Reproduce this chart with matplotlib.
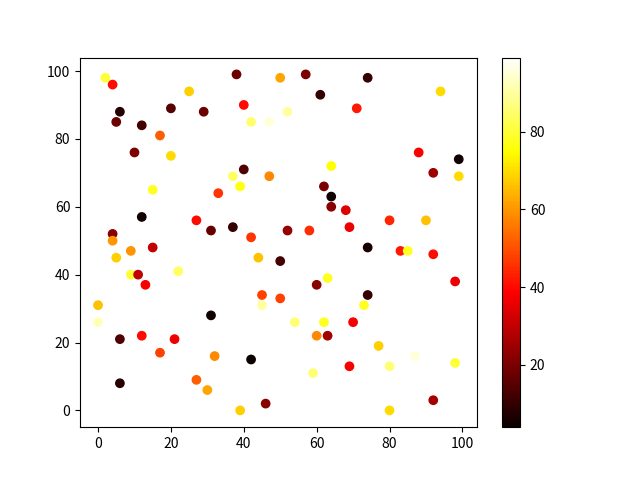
import numpy as np
import matplotlib.pyplot as plt

plt.rcParams['font.family'] = ['Noto Sans CJK SC', 'DejaVu Sans']

x = [2, 4, 6, 5, 12, 10, 17, 20, 25, 29, 20, 15, 12, 33, 38, 40, 42, 47, 40, 37,
     39, 47, 37, 31, 27, 42, 44, 50, 57, 61, 52, 71, 74, 88, 88, 94, 99, 92, 99, 64,
     62, 64, 64, 68, 80, 90, 52, 58, 69, 74, 4, 4, 9, 15, 5, 50, 9, 11, 13, 22,
     45, 50, 45, 0, 0, 31, 6, 12, 21, 17, 32, 42, 6, 27, 30, 39, 46, 83, 85, 92,
     98, 60, 63, 74, 73, 54, 62, 70, 60, 63, 77, 87, 98, 69, 80, 59, 92, 80]
y = [98, 96, 88, 85, 84, 76, 81, 89, 94, 88, 75, 65, 57, 64, 99, 90, 85, 85, 71, 69,
     66, 69, 54, 53, 56, 51, 45, 98, 99, 93, 88, 89, 98, 76, 90, 94, 74, 70, 69, 72,
     66, 63, 60, 59, 56, 56, 53, 53, 54, 48, 52, 50, 47, 48, 45, 44, 40, 40, 37, 41,
     34, 33, 31, 31, 26, 28, 21, 22, 21, 17, 16, 15, 8, 9, 6, 0, 2, 47, 47, 46,
     38, 37, 39, 34, 31, 26, 26, 26, 22, 22, 19, 16, 14, 13, 13, 11, 3, 0]
c = [80, 40, 8, 18, 12, 20, 52, 15, 68, 18, 70, 78, 5, 46, 18, 40, 85, 95, 14, 84,
     76, 58, 10, 17, 40, 46, 66, 62, 20, 10, 90, 42, 10, 38, 99, 70, 5, 25, 70, 75,
     20, 5, 22, 34, 44, 66, 24, 45, 36, 6, 22, 60, 60, 30, 68, 12, 80, 30, 38, 84,
     48, 48, 90, 66, 92, 5, 14, 40, 36, 48, 58, 4, 8, 52, 62, 68, 22, 42, 78, 40,
     36, 22, 78, 10, 78, 86, 78, 38, 58, 26, 68, 95, 80, 38, 86, 86, 26, 70]

plt.scatter(x, y, c=c, cmap='hot')
plt.colorbar()
plt.savefig('out.png')
